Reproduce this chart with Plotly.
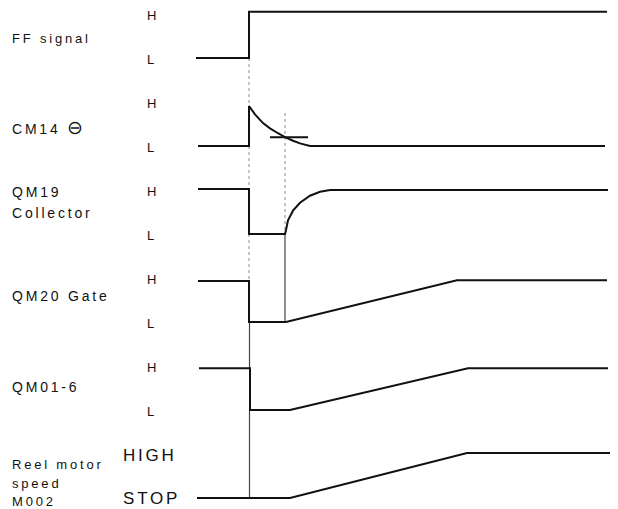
import plotly.graph_objects as go

# ---- data (time in chart units, level: L=0, H=1) ----
lane_names = ["FF signal", "CM14", "QM19", "QM20 Gate", "QM01-6", "Reel motor"]
lane_index = [0, 1, 2, 3, 4, 5]

ff_t = [196, 249, 249, 607]
ff_lv = [0, 0, 1.05, 1.05]

cm14_t = [198, 249, 249, 255, 263, 270, 278, 285, 293, 300, 310, 605]
cm14_lv = [0, 0, 0.91, 0.72, 0.52, 0.40, 0.29, 0.20, 0.12, 0.06, 0, 0]

cross_t = [270, 308]
cross_lv = [0.2, 0.2]

qm19_t = [198, 249, 249, 285, 286, 288, 293, 300, 310, 320, 330, 608]
qm19_lv = [1.02, 1.02, 0, 0, 0.09, 0.31, 0.53, 0.71, 0.87, 0.96, 1.0, 1.0]

qm20_t = [198, 249, 249, 286, 457, 607]
qm20_lv = [0.93, 0.93, 0, 0, 0.95, 0.95]

qm01_t = [199, 250, 250, 290, 468, 608]
qm01_lv = [0.95, 0.95, 0, 0, 0.95, 0.95]

motor_t = [197, 290, 467, 610]
motor_lv = [0, 0, 1.02, 1.02]

# event guide lines: (time, (lane, level), (lane, level))
guides_dotted = [
    (249, (0, 0.0), (1, 0.91)),
    (249, (1, 0.0), (2, 1.02)),
    (249, (2, 0.0), (3, 0.93)),
    (285, (1, 0.75), (2, 0.0)),
]
guides_solid = [
    (249.5, (3, 0.0), (4, 0.95)),
    (249.5, (4, 0.0), (5, 0.0)),
    (285, (2, 0.0), (3, 0.0)),
]

level_labels = [
    # (lane, text_high, text_low)
    (0, "H", "L"),
    (1, "H", "L"),
    (2, "H", "L"),
    (3, "H", "L"),
    (4, "H", "L"),
    (5, "HIGH", "STOP"),
]

AMP = 0.5  # lane-height fraction for H


def v(lane, level):
    return -lane + AMP * level


fig = go.Figure()

signals = [
    (0, ff_t, ff_lv),
    (1, cm14_t, cm14_lv),
    (1, cross_t, cross_lv),
    (2, qm19_t, qm19_lv),
    (3, qm20_t, qm20_lv),
    (4, qm01_t, qm01_lv),
    (5, motor_t, motor_lv),
]

for x, a, b in guides_dotted:
    fig.add_trace(go.Scatter(x=[x, x], y=[v(*a), v(*b)], mode="lines",
                             line=dict(color="#8a8a8a", width=1, dash="dot"),
                             hoverinfo="skip", showlegend=False))
for x, a, b in guides_solid:
    fig.add_trace(go.Scatter(x=[x, x], y=[v(*a), v(*b)], mode="lines",
                             line=dict(color="#444444", width=1.2),
                             hoverinfo="skip", showlegend=False))

for lane, t, lv in signals:
    fig.add_trace(go.Scatter(x=t, y=[v(lane, l) for l in lv], mode="lines",
                             line=dict(color="#111111", width=2),
                             hoverinfo="skip", showlegend=False))

FONT = "Liberation Sans, Arial, Helvetica, sans-serif"
ann = []


def text(x, y, s, size):
    ann.append(dict(x=x, y=y, xref="x", yref="y", text=s, showarrow=False,
                    xanchor="left", yanchor="middle", align="left",
                    font=dict(family=FONT, size=size, color="#111111")))


# signal names (left column)
text(10, v(0, 0.45), lane_names[0], 13)
text(10, v(1, 0.41), lane_names[1] + ' <span style="font-size:19px">\u2296</span>', 14)
text(10, v(2, 0.95), lane_names[2], 14)
text(10, v(2, 0.47), "Collector", 14)
text(10, v(3, 0.58), lane_names[3], 14)
text(10, v(4, 0.53), lane_names[4], 14)
text(10, v(5, 0.77), lane_names[5], 13)
text(10, v(5, 0.34), "speed", 13)
text(10, v(5, -0.08), "M002", 13)

# level labels
for lane, hi, lo in level_labels:
    if lane < 5:
        text(145, v(lane, 0.97), hi, 13)
        text(145, v(lane, -0.04), lo, 13)
    else:
        text(121, v(lane, 0.97), hi, 17)
        text(121, v(lane, 0.0), lo, 17)

fig.update_layout(
    width=618, height=509,
    margin=dict(l=0, r=0, t=0, b=0),
    paper_bgcolor="white", plot_bgcolor="white",
    xaxis=dict(range=[0, 618], visible=False, fixedrange=True),
    yaxis=dict(range=[(58 - 509) / 88, 58 / 88], visible=False, fixedrange=True),
    annotations=ann,
    showlegend=False,
)

post = """
document.body.style.margin='0';
var gd=document.getElementById('{plot_id}');
function sp(){gd.querySelectorAll('.annotation-text').forEach(function(e){e.style.letterSpacing='2.8px';});}
sp(); setTimeout(sp,0); setTimeout(sp,150);
if(gd.on){gd.on('plotly_afterplot',sp);}
"""

fig.write_html("out.html", config={"displayModeBar": False}, post_script=post)
